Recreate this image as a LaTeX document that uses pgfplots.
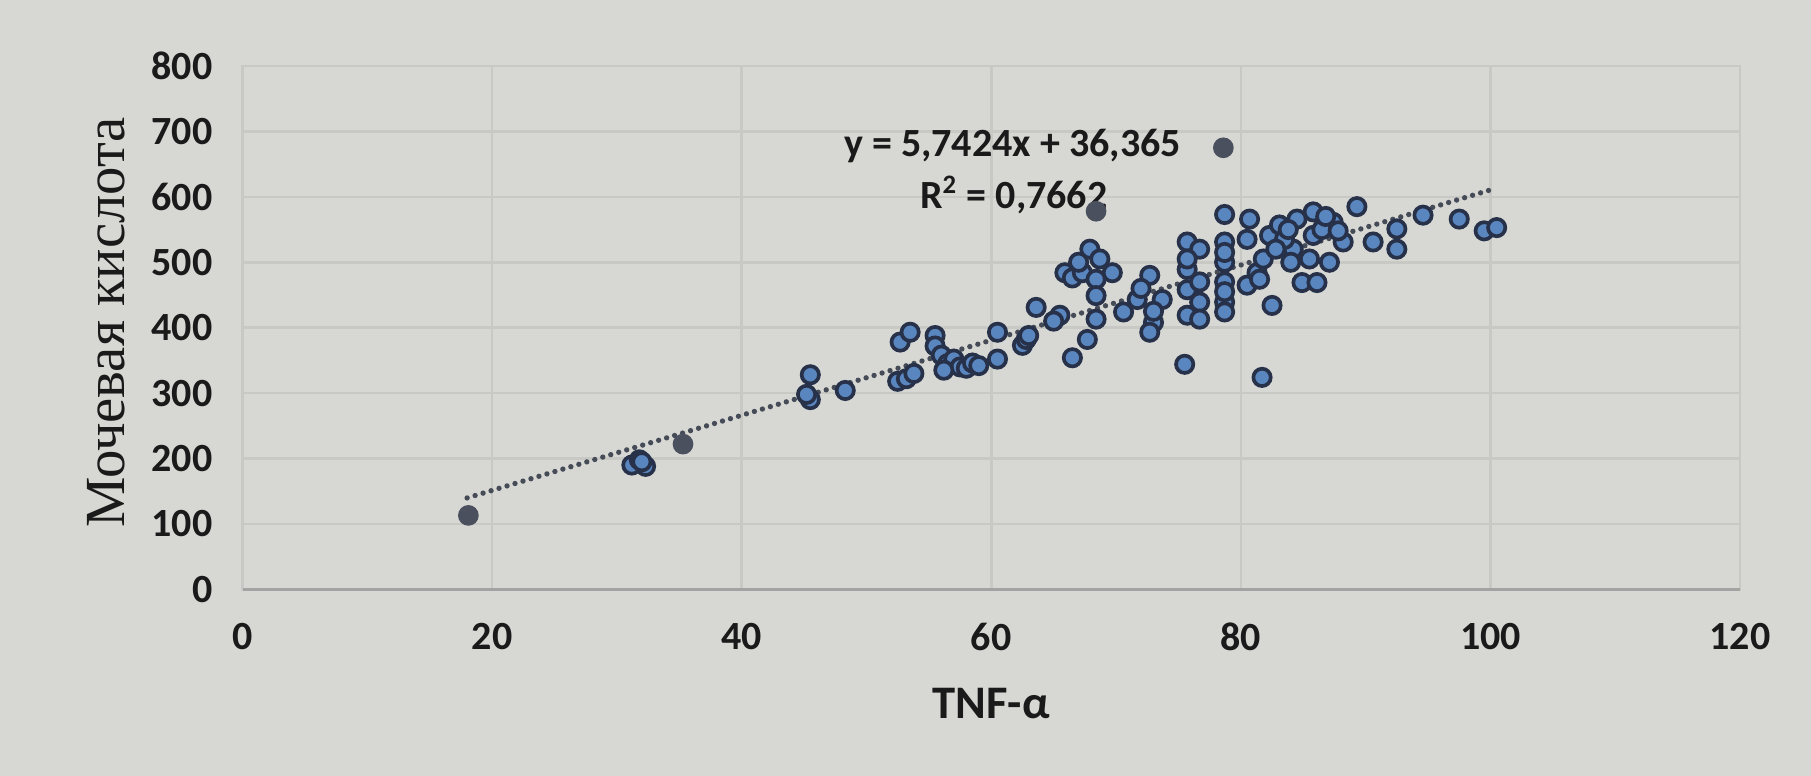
\documentclass[border=0pt]{standalone}
\usepackage{pgfplots}
\pgfplotsset{compat=1.18}
\usepackage{fontspec}
\setmainfont{Carlito}
\newfontfamily\serifru{Liberation Serif}
\definecolor{bg}{HTML}{D7D8D3}
\definecolor{gridc}{HTML}{C8C9C4}
\definecolor{ptfill}{HTML}{5A86BF}
\definecolor{ptdraw}{HTML}{27324A}
\definecolor{darkpt}{HTML}{4A505E}
\definecolor{trend}{HTML}{454B57}
\definecolor{txt}{HTML}{1A1A1A}
\pgfplotstableread{
x y
31.2 190
31.8 198
32.3 188
32.0 195
45.5 328
45.5 290
45.2 298
48.3 304
52.7 378
53.5 393
52.5 318
53.2 322
53.8 330
55.5 388
55.5 372
56.0 358
56.5 345
57.0 352
57.5 340
58.0 338
58.5 346
59.0 342
56.2 335
60.5 393
60.5 352
62.5 373
62.8 382
63.6 431
63.0 388
65.5 419
65.0 410
66.5 354
67.7 382
65.9 484
66.5 476
67.3 484
67.9 520
68.7 505
69.7 484
68.4 474
67.0 500
68.4 449
68.4 413
70.6 424
72.7 480
71.7 443
73.0 408
72.7 393
73.7 443
72.0 460
73.0 425
75.7 531
76.7 520
75.7 489
75.7 458
75.7 419
76.7 439
76.7 413
75.7 505
76.7 470
75.5 344
78.7 531
78.7 500
78.7 470
78.7 439
78.7 424
78.7 515
78.7 455
78.7 573
81.7 324
82.5 434
80.5 465
81.3 484
80.5 535
80.7 566
82.3 541
83.1 557
84.5 566
85.8 577
87.4 561
88.2 531
87.1 500
85.5 505
84.2 520
85.8 541
81.8 505
81.5 474
83.5 535
86.5 550
84.0 500
82.8 520
87.8 548
86.8 570
83.8 550
84.9 469
86.1 469
89.3 585
90.6 531
92.5 551
92.5 520
94.6 572
97.5 566
99.5 548
100.5 553
}\bluedata
\pgfplotstableread{
x y
18.1 113
35.3 222
78.6 675
68.4 578
}\darkdata
\begin{document}
\begin{tikzpicture}
\fill[bg] (0,0) rectangle (543.3pt,232.8pt);
\useasboundingbox (0,0) rectangle (543.3pt,232.8pt);
\begin{axis}[
  at={(72.75pt,56.0pt)}, anchor=south west,
  width=449.25pt, height=157pt, scale only axis,
  xmin=0, xmax=120, ymin=0, ymax=800,
  xtick={0,20,...,120}, ytick={0,100,...,800},
  grid=major,
  major grid style={gridc, line width=0.8pt},
  axis line style={gridc, line width=0.8pt},
  major tick length=0pt,
  tick label style={font=\fontsize{12}{14}\selectfont\bfseries, text=txt},
  /pgf/number format/assume math mode=true,
  /pgf/number format/1000 sep={},
  xticklabel style={yshift=-6.5pt},
  yticklabel style={xshift=-5.5pt},
  xlabel={TNF-α},
  ylabel={\serifru Мочевая кислота},
  x label style={at={(axis description cs:0.5,-0.218)}, anchor=center, font=\fontsize{14}{16}\selectfont\bfseries, text=txt},
  y label style={at={(axis description cs:-0.091,0.51)}, anchor=center, font=\fontsize{17}{19}\selectfont, text=txt},
  clip=false,
]
\draw[gray!80!black!60, line width=1pt] (axis cs:0,0) -- (axis cs:120,0);
\addplot[trend, line width=1.6pt, line cap=round, dash pattern=on 0pt off 2.5pt] coordinates {(18,139.73) (100,610.6)};
\addplot[only marks, mark=*, mark size=2.6pt, mark options={fill=ptfill, draw=ptdraw, line width=1.1pt}] table {\bluedata};
\addplot[only marks, mark=*, mark size=2.8pt, mark options={fill=darkpt, draw=darkpt, line width=0.6pt}] table {\darkdata};
\node[font=\fontsize{12}{14}\selectfont\bfseries, text=txt] at (axis cs:61.7,678) {y = 5,7424x + 36,365};
\node[font=\fontsize{12}{14}\selectfont\bfseries, text=txt] at (axis cs:61.8,603) {R\textsuperscript{2} = 0,7662};
\end{axis}
\end{tikzpicture}
\end{document}
